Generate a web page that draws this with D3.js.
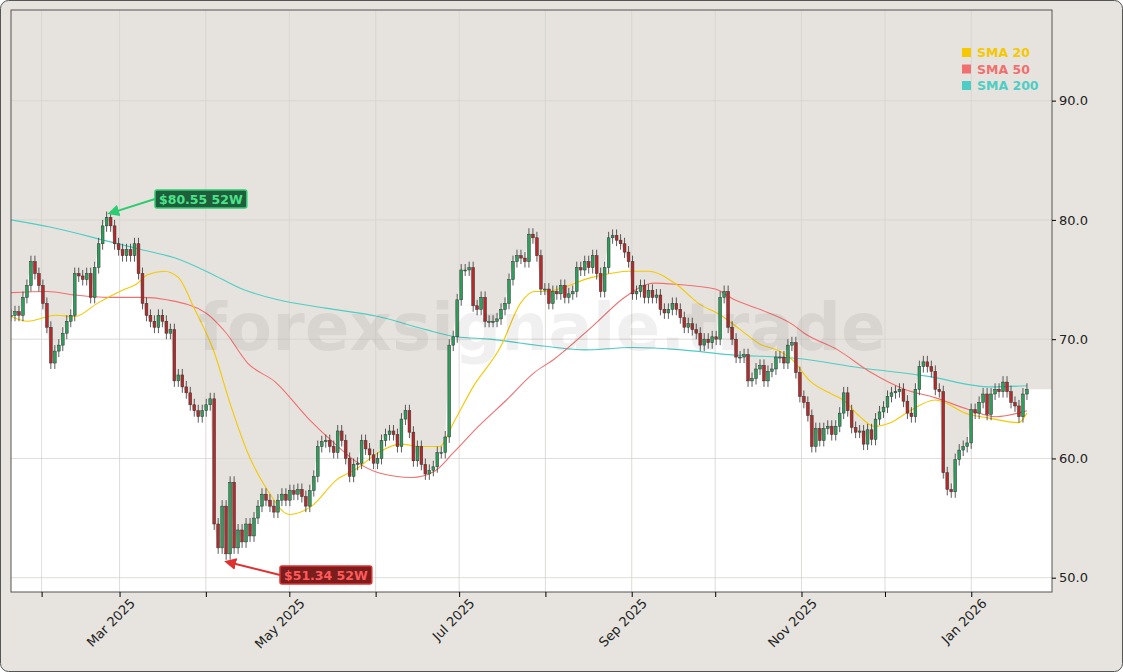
<!DOCTYPE html>
<html><head><meta charset="utf-8">
<script src="https://cdn.jsdelivr.net/npm/d3@7"></script>
<style>body{margin:0;background:#fff;font-family:"DejaVu Sans",sans-serif}</style>
</head><body><svg id="c" width="1123" height="672"></svg>
<script>
const startDate = "2025-01-21", endDate = "2026-01-21";
const closes = [
72,72.3,72,73.5,74.5,76.5,75.5,74.5,73,
71,68,69,69.5,70.5,71.5,72,75.5,75.3,75,75.5,73.5,76,78,79.5,80.2,79.5,78,77.5,77,
77.5,77,78,75.5,73,72,71.5,71,72,71.5,70.5,70.8,66.5,67,66,65.5,64.5,64,63.5,64,64.5,
65,54.5,52.5,56,52,58,52.5,54,53,54.5,53.5,55,56,57,56.5,56,55.5,56.5,57,56.5,57.3,
57,57.4,56.8,56,57.3,58.5,61,61.4,61.5,61,60.5,62.3,61.5,60,58.5,59.5,59.6,61.5,60.8,60.3,59.6,
60,61.5,62,62.3,62,61,63.3,64,62.2,59.8,61,59.5,58.7,59,59.3,60.5,60.5,61.8,69.5,70.2,73.3,
75.8,75.8,76,72.8,72.5,73.5,71.5,71.5,71.5,71.7,72.5,73,75,76.5,77,76.8,76.5,78.8,78.5,77,74.2,74.2,
73,74,73.8,74.5,73.5,73.8,74,76,75.8,76.5,76,77,75.5,74,76,78.5,78.7,78.3,78,77.3,76.5,
73.8,74,74.5,73.5,74.1,73.5,73.7,72.5,72.2,72.5,73,72.5,71.8,71,71.3,70.8,70.5,69.5,70,69.7,70.2,
70,73.5,74,71,70,68.5,68.5,68.7,66.5,66.7,67.5,67.8,66.5,67.3,67.5,68.5,68.5,68,69.5,69.7,67.2,65.2,64.7,
63.6,61,62.5,61.5,62.5,62.7,62,62.7,63.8,65.5,64,62.6,62.2,62.3,61.2,62.4,61.6,63.3,63.9,
64.3,65.2,65.5,65.6,65.8,64.8,63.8,63.5,65.8,67.7,68.1,67.7,67.3,65.8,65.6,58.8,57.4,57.2,59.9,60.7,61,61.3,
64.1,63.8,64.7,65.4,63.7,65.4,65.8,65.6,66.4,65.6,64.7,64.4,63.5,65.4,65.8];
const sma20 = [["2025-01-21",71.9],["2025-01-27",71.5],["2025-02-06",72],["2025-02-13",71.9],["2025-02-21",73],["2025-03-03",74.2],["2025-03-07",74.6],["2025-03-11",75.4],["2025-03-17",75.7],["2025-03-22",75.2],["2025-03-28",72.5],["2025-04-04",68.9],["2025-04-10",64.4],["2025-04-16",60.5],["2025-04-23",57.4],["2025-05-01",55.3],["2025-05-09",56],["2025-05-18",58.2],["2025-05-25",59.1],["2025-06-02",60.5],["2025-06-10",61.2],["2025-06-17",61],["2025-06-24",61],["2025-06-29",63],["2025-07-06",66],["2025-07-16",69.4],["2025-07-23",73],["2025-07-28",74],["2025-08-01",74],["2025-08-18",75.2],["2025-08-31",75.7],["2025-09-07",75.7],["2025-09-17",74.6],["2025-09-25",73],["2025-10-03",72],["2025-10-10",70.8],["2025-10-17",69.6],["2025-10-24",69],["2025-10-29",68.2],["2025-11-04",66.5],["2025-11-11",65.5],["2025-11-16",64.9],["2025-11-22",63.5],["2025-11-27",62.7],["2025-12-03",63],["2025-12-10",64],["2025-12-19",64.9],["2025-12-31",63.7],["2026-01-07",63.4],["2026-01-18",63],["2026-01-21",63.8]];
const sma50 = [["2025-01-21",73.9],["2025-02-03",74],["2025-02-13",73.7],["2025-02-25",73.5],["2025-03-09",73.5],["2025-03-18",73.3],["2025-04-01",72.2],["2025-04-08",70.6],["2025-04-16",68],["2025-04-26",66.4],["2025-05-08",63.3],["2025-05-17",61.3],["2025-05-24",59.9],["2025-06-02",58.8],["2025-06-14",58.4],["2025-06-22",58.9],["2025-06-29",60.5],["2025-07-08",62.7],["2025-07-18",64.9],["2025-07-28",67.2],["2025-08-04",68.3],["2025-08-18",71.1],["2025-08-30",73.6],["2025-09-09",74.7],["2025-09-17",74.6],["2025-10-01",74.2],["2025-10-08",73.3],["2025-10-17",72.5],["2025-10-29",71.2],["2025-11-02",70.5],["2025-11-14",69.1],["2025-11-26",67.2],["2025-12-08",65.8],["2025-12-19",65.1],["2025-12-31",64.1],["2026-01-10",63.5],["2026-01-21",64]];
const sma200 = [["2025-01-21",80],["2025-02-04",79.4],["2025-02-25",78.2],["2025-03-09",77.5],["2025-03-21",76.8],["2025-04-02",75.6],["2025-04-14",74.2],["2025-04-27",73.3],["2025-05-14",72.6],["2025-06-02",71.9],["2025-06-19",70.8],["2025-06-30",70.2],["2025-07-12",70],["2025-08-01",69.4],["2025-08-15",69.1],["2025-09-01",69.3],["2025-09-19",69.1],["2025-10-06",68.7],["2025-10-30",68.4],["2025-11-22",67.6],["2025-12-16",66.9],["2026-01-08",66],["2026-01-21",66.1]];
const yTicks = [50,60,70,80,90];
const legendItems = [["SMA 20","#f5c800"],["SMA 50","#f07070"],["SMA 200","#4ecdc4"]];
const hi52 = {date:"2025-02-24", value:80.55, label:"$80.55 52W"};
const lo52 = {date:"2025-04-07", value:51.34, label:"$51.34 52W"};

const P = d3.timeParse("%Y-%m-%d");
const svg = d3.select("#c");
const L=11,R=1052,T=10,B=592;
svg.append("rect").attr("x",0.5).attr("y",0.5).attr("width",1122).attr("height",671).attr("rx",8).attr("fill","#e7e4df").attr("stroke","#555");
const x = d3.scaleTime().domain([P("2025-01-21"), P("2026-01-30")]).range([L,R]);
const y = d3.scaleLinear().domain([48.8,97.6]).range([B,T]);
svg.append("rect").attr("x",L).attr("y",T).attr("width",R-L).attr("height",B-T).attr("fill","#e6e3de");
svg.append("clipPath").attr("id","cp").append("rect").attr("x",L).attr("y",T).attr("width",R-L).attr("height",B-T);
const g = svg.append("g").attr("clip-path","url(#cp)");
const s0=P(startDate).getTime(), s1=P(endDate).getTime();
const data = closes.map((c,i)=>{const o=i?closes[i-1]:c;return {d:new Date(s0+(s1-s0)*i/(closes.length-1)),o,c,h:Math.max(o,c)+0.5,l:Math.min(o,c)-0.5};});
const areaData = data.concat([{d:x.domain()[1],c:closes[closes.length-1]}]);
g.append("path").datum(areaData).attr("fill","#fff").attr("d",d3.area().x(d=>x(d.d)).y0(B).y1(d=>y(d.c)));
g.selectAll(".gy").data(yTicks).join("line").attr("x1",L).attr("x2",R).attr("y1",d=>y(d)).attr("y2",d=>y(d)).attr("stroke","#d6d3ce").attr("stroke-width",0.8);
const months = d3.timeMonth.range(P("2025-02-01"),P("2026-01-02"));
g.selectAll(".gx").data(months).join("line").attr("x1",d=>x(d)).attr("x2",d=>x(d)).attr("y1",T).attr("y2",B).attr("stroke","#d6d3ce").attr("stroke-width",0.8);
svg.append("text").attr("x",542).attr("y",350).attr("text-anchor","middle").attr("font-size",66).attr("font-weight","bold").attr("fill","rgba(0,0,0,0.06)").text("forexsignale.trade");
const line = d3.line().x(d=>x(P(d[0]))).y(d=>y(d[1])).curve(d3.curveMonotoneX);
[[sma200,"#4ecdc4"],[sma50,"#f07070"],[sma20,"#f5c800"]].forEach(([a,c])=>g.append("path").attr("d",line(a)).attr("fill","none").attr("stroke",c).attr("stroke-width",1.1));
const cg = g.selectAll(".cd").data(data).join("g");
cg.append("line").attr("x1",d=>x(d.d)).attr("x2",d=>x(d.d)).attr("y1",d=>y(d.h)).attr("y2",d=>y(d.l)).attr("stroke","#333").attr("stroke-width",0.8);
cg.append("rect").attr("x",d=>x(d.d)-1.4).attr("width",2.8).attr("y",d=>y(Math.max(d.o,d.c))).attr("height",d=>Math.max(1,Math.abs(y(d.o)-y(d.c)))).attr("fill",d=>d.c>=d.o?"#2e9e5b":"#b52a2a").attr("stroke","#333").attr("stroke-width",0.5);
svg.append("rect").attr("x",L).attr("y",T).attr("width",R-L).attr("height",B-T).attr("fill","none").attr("stroke","#555");
const ya = svg.append("g").attr("transform",`translate(${R},0)`).call(d3.axisRight(y).tickValues(yTicks).tickFormat(d3.format(".1f")).tickSize(4));
ya.select(".domain").remove();
ya.selectAll("text").attr("font-size",13).attr("fill","#222").attr("font-family","DejaVu Sans");
const xa = svg.append("g").attr("transform",`translate(0,${B})`).call(d3.axisBottom(x).tickValues(months).tickSize(5).tickFormat(d=>d.getMonth()%2===0?d3.timeFormat("%b %Y")(d):""));
xa.select(".domain").remove();
xa.selectAll("text").attr("font-size",13).attr("fill","#222").attr("font-family","DejaVu Sans").attr("text-anchor","end").attr("transform","rotate(-45)").attr("dx","0.2em").attr("dy","0.9em");
legendItems.forEach(([t,c],i)=>{
  svg.append("rect").attr("x",962).attr("y",48+i*16.5).attr("width",9).attr("height",9).attr("fill",c);
  svg.append("text").attr("x",977).attr("y",57+i*16.5).attr("font-size",12.5).attr("font-weight","bold").attr("fill",c).text(t);
});
function ann(p,bx,by,fill,stroke,tc,id){
  const px=x(P(p.date)), py=y(p.value);
  svg.append("defs").append("marker").attr("id",id).attr("viewBox","0 0 10 10").attr("refX",8).attr("refY",5).attr("markerWidth",6).attr("markerHeight",6).attr("orient","auto").append("path").attr("d","M0,0L10,5L0,10z").attr("fill",stroke);
  svg.append("line").attr("x1",bx).attr("y1",by+9).attr("x2",px+4).attr("y2",py).attr("stroke",stroke).attr("stroke-width",2).attr("marker-end",`url(#${id})`);
  const r=svg.append("rect").attr("x",bx).attr("y",by).attr("height",18).attr("rx",2).attr("fill",fill).attr("stroke",stroke).attr("stroke-width",1.5);
  const t=svg.append("text").attr("x",bx+4).attr("y",by+13.5).attr("font-size",12.5).attr("font-weight","bold").attr("fill",tc).text(p.label);
  r.attr("width",t.node().getComputedTextLength()+8);
}
ann(hi52,155,190,"#1e5e3a","#2ecc71","#4be38a","mh");
ann(lo52,280,566,"#7a1d1d","#e03030","#ff5a5a","ml");
</script></body></html>
